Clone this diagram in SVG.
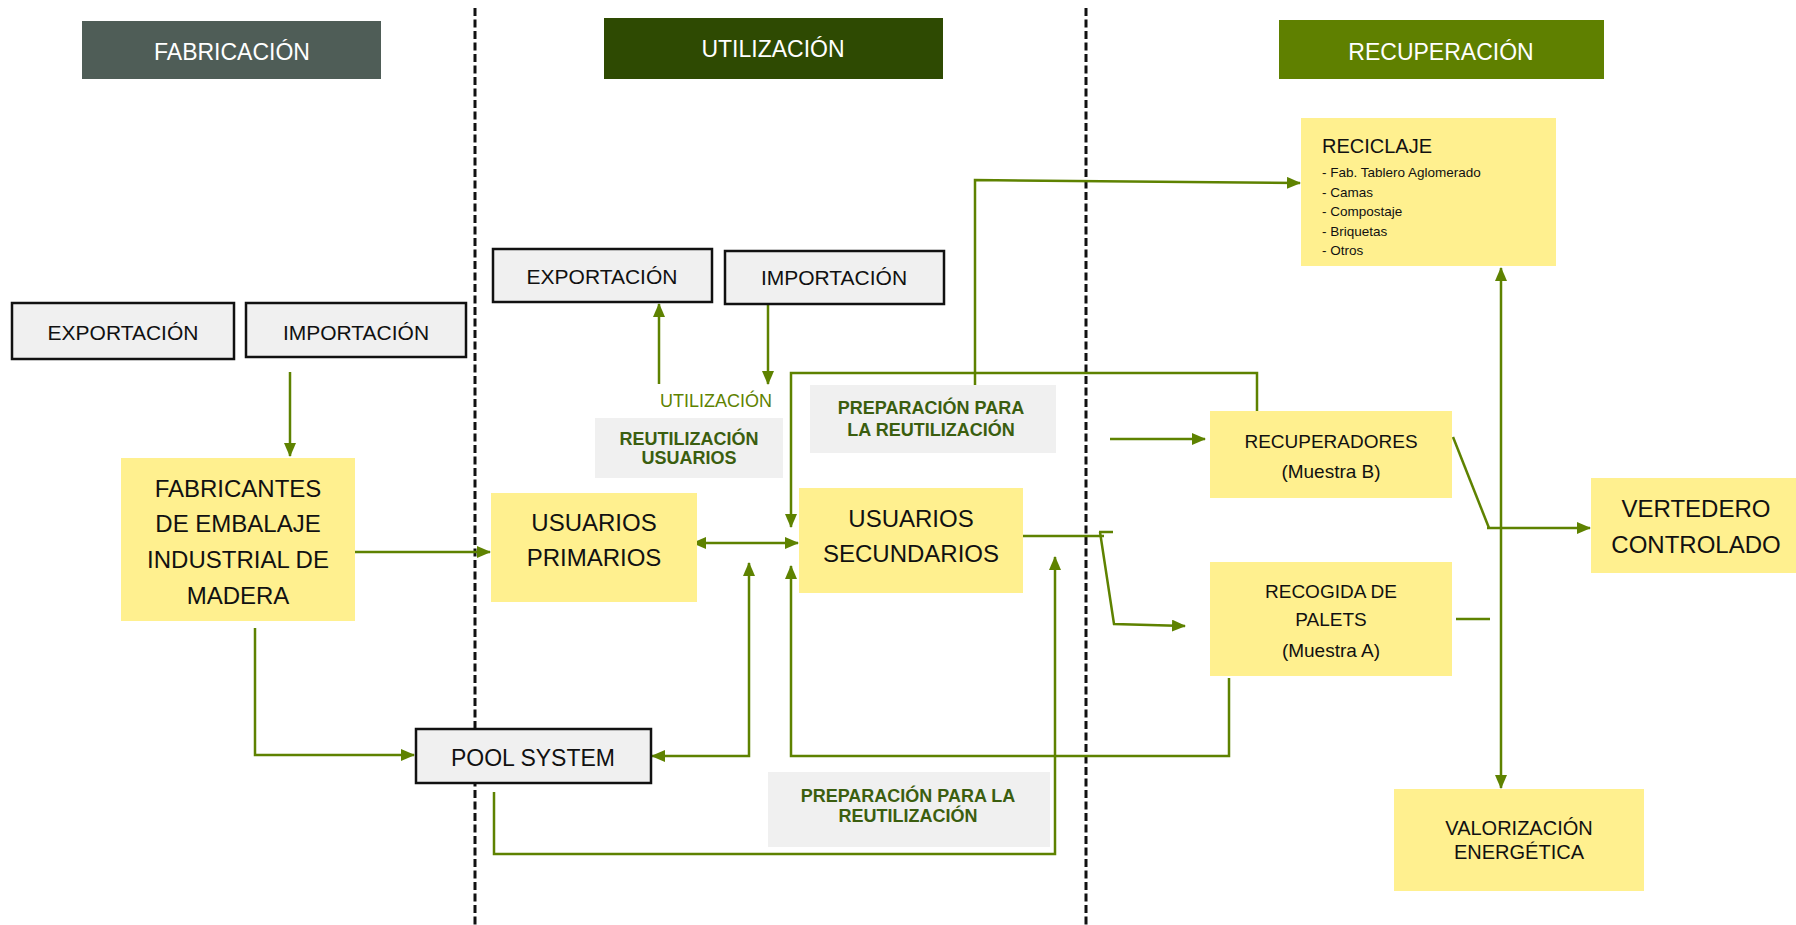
<svg xmlns="http://www.w3.org/2000/svg" width="1796" height="925" viewBox="0 0 1796 925">
<defs>
<marker id="arr" markerUnits="userSpaceOnUse" markerWidth="14" markerHeight="12" viewBox="0 0 14 12" refX="13" refY="6" orient="auto-start-reverse">
<path d="M0,0 L14,6 L0,12 z" fill="#5E8200"/>
</marker>
<style>
.hdr{font-family:"Liberation Sans",Arial,sans-serif;font-size:23px;fill:#ffffff;text-anchor:middle}
.box{fill:#F0F0F0;stroke:#111;stroke-width:2.5}
.yel{fill:#FFF08F}
.lab{fill:#F0F0F0}
.t{font-family:"Liberation Sans",Arial,sans-serif;fill:#111;text-anchor:middle}
.b{font-family:"Liberation Sans",Arial,sans-serif;font-weight:bold;font-size:18px;fill:#3B5E0F;text-anchor:middle}
.c{fill:none;stroke:#5E8200;stroke-width:2.5}
.a{marker-end:url(#arr)}
.aa{marker-start:url(#arr);marker-end:url(#arr)}
.dash{stroke:#111;stroke-width:3;stroke-dasharray:8 3.5;fill:none}
</style>
</defs>
<rect width="1796" height="925" fill="#ffffff"/>
<g id="dividers">
<line class="dash" x1="475" y1="8" x2="475" y2="925"/>
<line class="dash" x1="1086" y1="8" x2="1086" y2="925"/>
</g>
<g id="hdr-fabricacion"><rect x="82" y="21" width="299" height="58" fill="#4F5D57"/><text class="hdr" x="232" y="60">FABRICACIÓN</text></g>
<g id="hdr-utilizacion"><rect x="604" y="18" width="339" height="61" fill="#2E4A02"/><text class="hdr" x="773" y="57">UTILIZACIÓN</text></g>
<g id="hdr-recuperacion"><rect x="1279" y="20" width="325" height="59" fill="#5F8000"/><text class="hdr" x="1441" y="60">RECUPERACIÓN</text></g>

<g id="connectors">
<path class="c a" d="M290,372 V456"/>
<path class="c a" d="M355,552 H490"/>
<path class="c a" d="M255,628 V755 H414"/>
<path class="c aa" d="M693,543 H798"/>
<path class="c a" d="M659,384 V304"/>
<path class="c a" d="M768,304 V384"/>
<path class="c a" d="M1257,411 V373 H791 V527"/>
<path class="c a" d="M975,385 V180 L1300,183"/>
<path class="c aa" d="M652,756 H749 V563"/>
<path class="c a" d="M1229,678 V756 H791 V566"/>
<path class="c a" d="M494,792 V854 H1055 V557"/>
<path class="c" d="M1023,536 H1104"/>
<path class="c" d="M1099,532 H1113"/>
<path class="c a" d="M1100,532 L1114,624 L1185,626"/>
<path class="c a" d="M1110,439 H1205"/>
<path class="c" d="M1453,437 L1489,528"/>
<path class="c a" d="M1487,528 H1590"/>
<path class="c aa" d="M1501,268 V788"/>
<path class="c" d="M1456,619 H1490"/>
</g>

<g id="exportacion-fab"><rect class="box" x="12" y="303" width="222" height="56"/><text class="t" x="123" y="340" font-size="21">EXPORTACIÓN</text></g>
<g id="importacion-fab"><rect class="box" x="246" y="303" width="220" height="54"/><text class="t" x="356" y="340" font-size="21">IMPORTACIÓN</text></g>
<g id="exportacion-uti"><rect class="box" x="493" y="249" width="219" height="53"/><text class="t" x="602" y="284" font-size="21">EXPORTACIÓN</text></g>
<g id="importacion-uti"><rect class="box" x="725" y="251" width="219" height="53"/><text class="t" x="834" y="285" font-size="21">IMPORTACIÓN</text></g>

<g id="fabricantes"><rect class="yel" x="121" y="458" width="234" height="163"/>
<text class="t" font-size="24"><tspan x="238" y="497">FABRICANTES</tspan><tspan x="238" y="532">DE EMBALAJE</tspan><tspan x="238" y="568">INDUSTRIAL DE</tspan><tspan x="238" y="604">MADERA</tspan></text></g>

<g id="usuarios-primarios"><rect class="yel" x="491" y="493" width="206" height="109"/>
<text class="t" font-size="24"><tspan x="594" y="531">USUARIOS</tspan><tspan x="594" y="566">PRIMARIOS</tspan></text></g>

<g id="usuarios-secundarios"><rect class="yel" x="799" y="488" width="224" height="105"/>
<text class="t" font-size="24"><tspan x="911" y="527">USUARIOS</tspan><tspan x="911" y="562">SECUNDARIOS</tspan></text></g>

<g id="pool-system"><rect class="box" x="416" y="729" width="235" height="54"/><text class="t" x="533" y="766" font-size="23">POOL SYSTEM</text></g>

<g id="label-utilizacion"><text x="716" y="407" font-family="Liberation Sans, Arial, sans-serif" font-size="18" fill="#5E8200" text-anchor="middle">UTILIZACIÓN</text></g>

<g id="label-reutilizacion-usuarios"><rect class="lab" x="595" y="418" width="188" height="60"/>
<text class="b"><tspan x="689" y="445">REUTILIZACIÓN</tspan><tspan x="689" y="464">USUARIOS</tspan></text></g>

<g id="label-prep-top"><rect class="lab" x="810" y="385" width="246" height="68"/>
<text class="b"><tspan x="931" y="414">PREPARACIÓN PARA</tspan><tspan x="931" y="436">LA REUTILIZACIÓN</tspan></text></g>

<g id="label-prep-bottom"><rect class="lab" x="768" y="772" width="282" height="75"/>
<text class="b"><tspan x="908" y="802">PREPARACIÓN PARA LA</tspan><tspan x="908" y="822">REUTILIZACIÓN</tspan></text></g>

<g id="reciclaje"><rect class="yel" x="1301" y="118" width="255" height="148"/>
<text x="1322" y="153" font-family="Liberation Sans, Arial, sans-serif" font-size="20" fill="#111">RECICLAJE</text>
<text font-family="Liberation Sans, Arial, sans-serif" font-size="13.5" fill="#111"><tspan x="1322" y="177">- Fab. Tablero Aglomerado</tspan><tspan x="1322" y="197">- Camas</tspan><tspan x="1322" y="216">- Compostaje</tspan><tspan x="1322" y="236">- Briquetas</tspan><tspan x="1322" y="255">- Otros</tspan></text></g>

<g id="recuperadores"><rect class="yel" x="1210" y="411" width="242" height="87"/>
<text class="t" font-size="19"><tspan x="1331" y="448">RECUPERADORES</tspan><tspan x="1331" y="478">(Muestra B)</tspan></text></g>

<g id="recogida"><rect class="yel" x="1210" y="562" width="242" height="114"/>
<text class="t" font-size="19"><tspan x="1331" y="598">RECOGIDA DE</tspan><tspan x="1331" y="626">PALETS</tspan><tspan x="1331" y="657">(Muestra A)</tspan></text></g>

<g id="vertedero"><rect class="yel" x="1591" y="478" width="205" height="95"/>
<text class="t" font-size="24"><tspan x="1696" y="517">VERTEDERO</tspan><tspan x="1696" y="553">CONTROLADO</tspan></text></g>

<g id="valorizacion"><rect class="yel" x="1394" y="789" width="250" height="102"/>
<text class="t" font-size="20"><tspan x="1519" y="835">VALORIZACIÓN</tspan><tspan x="1519" y="859">ENERGÉTICA</tspan></text></g>
</svg>
